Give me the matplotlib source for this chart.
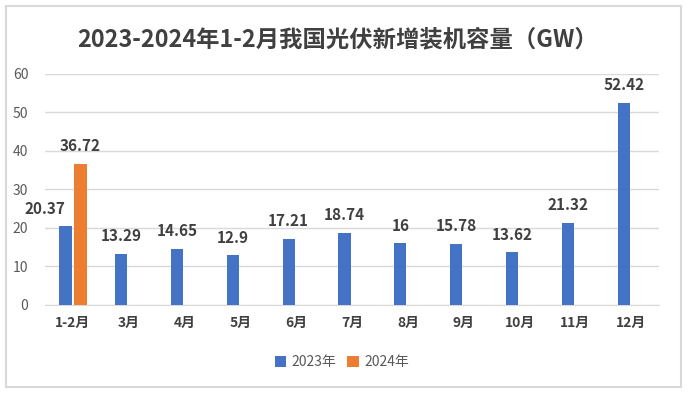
import numpy as np
import matplotlib
matplotlib.use("Agg")
from matplotlib import pyplot as plt
from matplotlib.patches import Rectangle

plt.rcParams['font.family'] = ['Noto Sans CJK SC', 'DejaVu Sans']

# data
months = ['1-2月', '3月', '4月', '5月', '6月', '7月', '8月', '9月', '10月', '11月', '12月']
vals_2023 = [20.37, 13.29, 14.65, 12.9, 17.21, 18.74, 16, 15.78, 13.62, 21.32, 52.42]
vals_2024 = [36.72]
labels_2023 = ['20.37', '13.29', '14.65', '12.9', '17.21', '18.74', '16', '15.78', '13.62', '21.32', '52.42']
labels_2024 = ['36.72']

blue = '#4472C4'
orange = '#ED7D31'
grid_c = '#D9D9D9'

fig = plt.figure(figsize=(6.88, 3.95), dpi=100)
ax = fig.add_axes([0.0654, 0.228, 0.8926, 0.585])

x = np.arange(len(months))
w = 0.22
off = 0.135
ax.bar(x - off, vals_2023, w, color=blue, label='2023年', zorder=3)
x24 = x[:len(vals_2024)]
ax.bar(x24 + off, vals_2024, w, color=orange, label='2024年', zorder=3)

# value labels
for i, (v, s) in enumerate(zip(vals_2023, labels_2023)):
    dx = -15 if i == 0 else 0
    ax.annotate(s, (x[i] - off, v), xytext=(dx, 7), textcoords='offset points',
                ha='center', va='bottom', fontsize=11, fontweight='bold', color='#404040')
for i, (v, s) in enumerate(zip(vals_2024, labels_2024)):
    ax.annotate(s, (x24[i] + off, v), xytext=(0, 7), textcoords='offset points',
                ha='center', va='bottom', fontsize=11, fontweight='bold', color='#404040')

ax.set_xlim(-0.5, len(months) - 0.5)
ax.set_ylim(0, 60)
ax.set_yticks(range(0, 61, 10))
ax.set_xticks(x)
ax.set_xticklabels(months, fontweight='bold', color='#404040', fontsize=10)
ax.tick_params(axis='y', colors='#595959', labelsize=10, length=0, pad=12)
ax.tick_params(axis='x', length=0, pad=8)
ax.grid(axis='y', color=grid_c, linewidth=1, zorder=0)
for sp in ['top', 'right', 'left']:
    ax.spines[sp].set_visible(False)
ax.spines['bottom'].set_color(grid_c)

fig.text(0.49, 0.9, '2023-2024年1-2月我国光伏新增装机容量（GW）', ha='center', va='center',
         fontsize=16.8, fontweight='bold', color='#404040')

leg = fig.legend(loc='center', bbox_to_anchor=(0.497, 0.083), ncol=2, frameon=False,
                 fontsize=10, handlelength=0.8, handleheight=0.8, columnspacing=0.8,
                 handletextpad=0.4)
for t in leg.get_texts():
    t.set_color('#595959')

fig.patches.append(Rectangle((6 / 688, 8 / 395), 675 / 688, 381 / 395, transform=fig.transFigure,
                             fill=False, edgecolor=grid_c, linewidth=1.5))

fig.savefig('out.png', dpi=100)
